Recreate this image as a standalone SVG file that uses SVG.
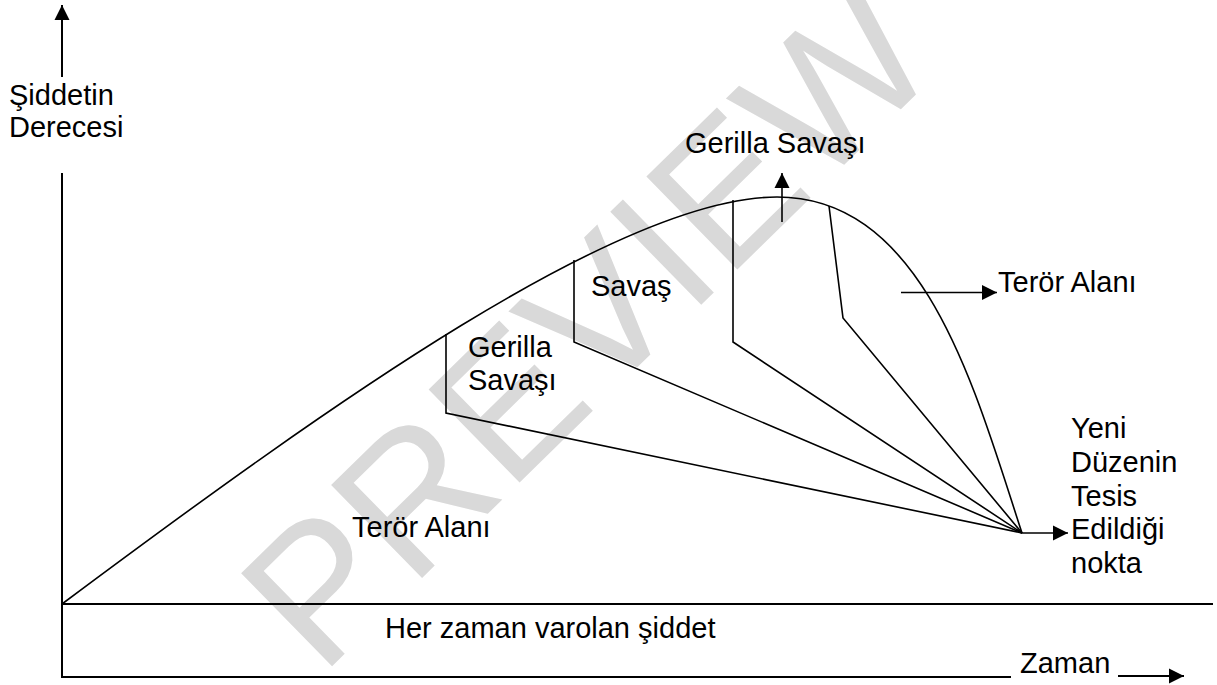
<svg xmlns="http://www.w3.org/2000/svg" width="1217" height="685" viewBox="0 0 1217 685">
<style>
.t{font-family:"Liberation Sans",Arial,sans-serif;font-size:29px;fill:#000}
.ln{fill:none;stroke:#000;stroke-width:1.6}
.ax{fill:none;stroke:#000;stroke-width:2}
.wm{font-family:"Liberation Sans",Arial,sans-serif;font-size:189px;fill:#d9d9d9}
</style>
<defs>
<marker id="ah" markerWidth="16" markerHeight="16" refX="15" refY="8" orient="auto" markerUnits="userSpaceOnUse">
<path d="M0,0.5 L15,8 L0,15.5 Z" fill="#000"/>
</marker>
</defs>
<rect width="1217" height="685" fill="#fff"/>
<text class="wm" transform="translate(321,677) rotate(-44.4)">PREVIEW</text>
<g id="axes">
<line class="ax" x1="62" y1="77" x2="62" y2="5" marker-end="url(#ah)"/>
<polyline class="ax" points="62,173 62,677 1011,677"/>
<line class="ax" x1="62" y1="604" x2="1213" y2="604"/>
<line class="ax" x1="1118" y1="676" x2="1184" y2="676" marker-end="url(#ah)"/>
</g>
<g id="curve">
<path class="ln" d="M62,604 C330,404 620,197 777,197 C925,197 975,390 1022,533"/>
</g>
<g id="connectors">
<polyline class="ln" points="446,334 446,413 1022,533"/>
<polyline class="ln" points="574,260 574,342 1022,533"/>
<polyline class="ln" points="733,200 733,342 1022,533"/>
<polyline class="ln" points="829,206 843,318 1022,533"/>
<line class="ln" x1="782" y1="222" x2="782" y2="173" marker-end="url(#ah)"/>
<line class="ln" x1="901" y1="292.5" x2="997" y2="292.5" marker-end="url(#ah)"/>
<line class="ln" x1="1022" y1="533" x2="1068" y2="533" marker-end="url(#ah)"/>
</g>
<g id="labels">
<text class="t" x="9" y="105">Şiddetin</text>
<text class="t" x="9" y="137">Derecesi</text>
<text class="t" x="685" y="153">Gerilla Savaşı</text>
<text class="t" x="591" y="296">Savaş</text>
<text class="t" x="468" y="357">Gerilla</text>
<text class="t" x="468" y="390">Savaşı</text>
<text class="t" x="998" y="292">Terör Alanı</text>
<text class="t" x="352" y="537">Terör Alanı</text>
<text class="t" x="1071" y="438">Yeni</text>
<text class="t" x="1071" y="472">Düzenin</text>
<text class="t" x="1071" y="506">Tesis</text>
<text class="t" x="1071" y="539">Edildiği</text>
<text class="t" x="1071" y="573">nokta</text>
<text class="t" x="385" y="638">Her zaman varolan şiddet</text>
<text class="t" x="1020" y="673">Zaman</text>
</g>
</svg>
